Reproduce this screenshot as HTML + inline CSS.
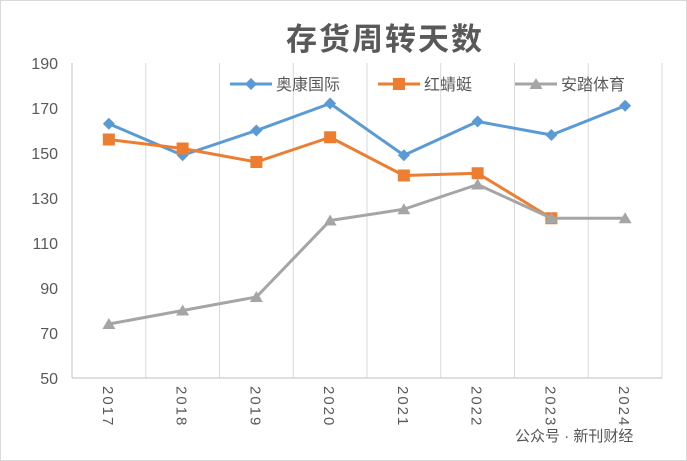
<!DOCTYPE html>
<html><head><meta charset="utf-8"><style>
body{margin:0;background:#fff;}
svg{display:block;font-family:"Liberation Sans","Noto Sans CJK SC",sans-serif;}
</style></head><body>
<svg id="chart" width="687" height="461" viewBox="0 0 687 461">
<rect x="0.5" y="0.5" width="686" height="460" fill="#fff" stroke="#d9d9d9"/>
<text x="385" y="50" text-anchor="middle" font-size="31" font-weight="bold" fill="#595959" letter-spacing="2">存货周转天数</text>
<g id="grid"></g><g id="axes"></g><g id="series"></g><g id="legend"></g>
<text x="515" y="441" font-size="15" fill="#555">公众号 · 新刊财经</text>
</svg>
<script>
const categories=["2017","2018","2019","2020","2021","2022","2023","2024"];
const yTicks=[50,70,90,110,130,150,170,190];
const seriesNames=["奥康国际","红蜻蜓","安踏体育"];
const aokang=[163,149,160,172,149,164,158,171];
const hongqingting=[156,152,146,157,140,141,121,null];
const anta=[74,80,86,120,125,136,121,121];
const colors=["#5b9bd5","#ed7d31","#a5a5a5"];
const NS="http://www.w3.org/2000/svg";
const L=72,R=662,T=63,B=378;
const bw=(R-L)/categories.length;
const x=i=>L+bw*(i+0.5);
const y=v=>B-(v-50)/(190-50)*(B-T);
function mk(tag,attrs,parent){const e=document.createElementNS(NS,tag);for(const k in attrs)e.setAttribute(k,attrs[k]);parent.appendChild(e);return e;}
const grid=document.getElementById('grid'),axes=document.getElementById('axes'),ser=document.getElementById('series'),leg=document.getElementById('legend');
yTicks.forEach(t=>{
 const tl=mk('text',{x:L-14,y:y(t)+6,'text-anchor':'end','font-size':16,fill:'#595959'},axes);
 tl.textContent=t;
 
 
});
for(let i=1;i<=categories.length;i++){
 const g=mk('line',{x1:L+bw*i,x2:L+bw*i,y1:T,y2:B,stroke:'#d9d9d9'},grid);
 
 
}
const ya=mk('line',{x1:L,x2:L,y1:T,y2:B,stroke:'#bfbfbf'},axes);


const xa=mk('line',{x1:L,x2:R,y1:B,y2:B,stroke:'#bfbfbf'},axes);


categories.forEach((c,i)=>{
 const t=mk('text',{x:0,y:0,transform:`translate(${x(i)-6},${B+8}) rotate(90)`,'font-size':15,fill:'#595959','letter-spacing':'2'},axes);
 t.textContent=c;
 
 
});
function marker(kind,cx,cy,col,parent){
 let m;
 if(kind===0)m=mk('polygon',{points:`${cx},${cy-6} ${cx+6},${cy} ${cx},${cy+6} ${cx-6},${cy}`,fill:col},parent);
 else if(kind===1)m=mk('rect',{x:cx-6,y:cy-6,width:12,height:12,fill:col},parent);
 else m=mk('polygon',{points:`${cx},${cy-6} ${cx+6.5},${cy+5} ${cx-6.5},${cy+5}`,fill:col},parent);
 return m;
}
[aokang,hongqingting,anta].forEach((data,s)=>{
 const g=mk('g',{},ser);
 
 
 const pts=data.map((v,i)=>v==null?null:[x(i),y(v)]).filter(p=>p);
 const pl=mk('polyline',{points:pts.map(p=>p.join(',')).join(' '),fill:'none',stroke:colors[s],'stroke-width':3,'stroke-linejoin':'round'},g);
 
 
 pts.forEach(p=>{
  const m=marker(s,p[0],p[1],colors[s],g);
  
  
 });
 const lx=[230,378,515][s];
 const ll=mk('line',{x1:lx,x2:lx+42,y1:84,y2:84,stroke:colors[s],'stroke-width':3},leg);
 
 
 const lm=marker(s,lx+21,84,colors[s],leg);
 
 
 const lt=mk('text',{x:lx+46,y:90,'font-size':16,fill:'#595959'},leg);
 lt.textContent=seriesNames[s];
 
 
});
</script>
</body></html>
